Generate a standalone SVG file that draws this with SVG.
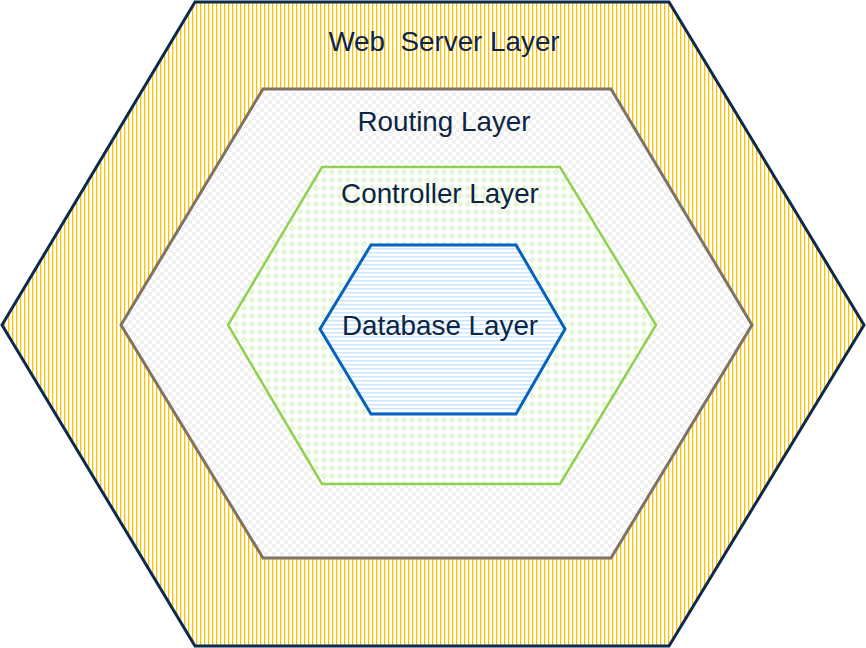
<svg xmlns="http://www.w3.org/2000/svg" width="866" height="648" viewBox="0 0 866 648">
<style>
.lbl{font-family:"Liberation Sans",Arial,sans-serif;font-size:27.8px;fill:#0c2544;text-anchor:middle;white-space:pre}
</style>
<defs>
<pattern id="pYellow" width="4" height="4" patternUnits="userSpaceOnUse"><rect width="4" height="4" fill="#fff"/><rect x="0" width="1.3" height="4" fill="#ffc000"/></pattern>
<pattern id="pCheck" width="8" height="8" patternUnits="userSpaceOnUse"><rect width="8" height="8" fill="#fff"/><rect width="4" height="4" fill="#f0f0f0"/><rect x="4" y="4" width="4" height="4" fill="#f0f0f0"/></pattern>
<pattern id="pDiamond" width="8" height="8" patternUnits="userSpaceOnUse"><rect width="8" height="8" fill="#fff"/><polygon points="4,0.5 7.5,4 4,7.5 0.5,4" fill="#e4f6d6"/></pattern>
<pattern id="pLines" width="4" height="4" patternUnits="userSpaceOnUse"><rect width="4" height="4" fill="#fff"/><rect y="0" width="4" height="1.5" fill="#cce5ff"/></pattern>
</defs>
<g id="web-server-layer">
<polygon points="195,2 669,2 864,325 669,646 195,646 2,325" fill="url(#pYellow)" stroke="#0b2a4d" stroke-width="3" stroke-linejoin="miter"/>
<text class="lbl" x="444" y="51">Web  Server Layer</text>
</g>
<g id="routing-layer">
<polygon points="263,89 611,89 752,325 611,558 263,558 121,325" fill="url(#pCheck)" stroke="#7f7366" stroke-width="3"/>
<text class="lbl" x="444" y="131">Routing Layer</text>
</g>
<g id="controller-layer">
<polygon points="322,167 560,167 656,325 560,484 322,484 228,325" fill="url(#pDiamond)" stroke="#92d050" stroke-width="2.5"/>
<text class="lbl" x="440" y="203">Controller Layer</text>
</g>
<g id="database-layer">
<polygon points="371,245 516,245 565,329 516,414 371,414 320,329" fill="url(#pLines)" stroke="#0563c1" stroke-width="3"/>
<text class="lbl" x="440" y="335">Database Layer</text>
</g>
<g id="connectors"/>
</svg>
